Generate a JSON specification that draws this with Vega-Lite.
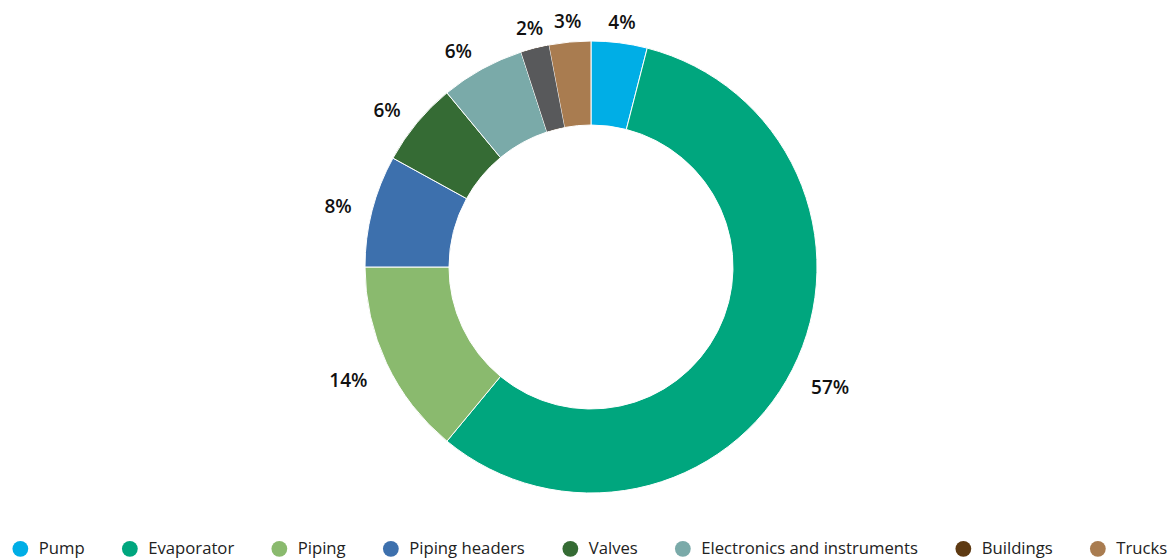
{
  "$schema": "https://vega.github.io/schema/vega-lite/v6.json",
  "width": 1170,
  "height": 558,
  "autosize": {"type": "fit", "contains": "padding"},
  "padding": {"left": 12, "right": 0, "top": 0, "bottom": 0},
  "data": {
    "values": [
      {"i": 1, "part": "Pump", "pct": 4, "label": "4%"},
      {"i": 2, "part": "Evaporator", "pct": 57, "label": "57%"},
      {"i": 3, "part": "Piping", "pct": 14, "label": "14%"},
      {"i": 4, "part": "Piping headers", "pct": 8, "label": "8%"},
      {"i": 5, "part": "Valves", "pct": 6, "label": "6%"},
      {"i": 6, "part": "Electronics and instruments", "pct": 6, "label": "6%"},
      {"i": 7, "part": "Buildings", "pct": 2, "label": "2%"},
      {"i": 8, "part": "Trucks", "pct": 3, "label": "3%"}
    ]
  },
  "encoding": {
    "theta": {"field": "pct", "type": "quantitative", "stack": true},
    "order": {"field": "i", "type": "quantitative"}
  },
  "layer": [
    {
      "mark": {"type": "arc", "outerRadius": 226, "innerRadius": 142, "stroke": "white", "strokeWidth": 1},
      "encoding": {
        "color": {
          "field": "part", "type": "nominal",
          "scale": {
            "domain": ["Pump", "Evaporator", "Piping", "Piping headers", "Valves", "Electronics and instruments", "Buildings", "Trucks"],
            "range": ["#00aee6", "#00a67e", "#8aba6e", "#3d70ad", "#356b34", "#7aaaa9", "#5e3a12", "#a97c50"]
          },
          "legend": {
            "orient": "bottom",
            "direction": "horizontal",
            "offset": 6,
            "title": null,
            "symbolType": "circle",
            "symbolSize": 250,
            "symbolStrokeWidth": 0,
            "labelFontSize": 16.7,
            "labelFont": "Open Sans",
            "labelColor": "#222222",
            "labelOffset": 10,
            "columnPadding": 36.5,
            "labelLimit": 400
          }
        }
      }
    },
    {
      "mark": {"type": "arc", "outerRadius": 225.5, "innerRadius": 142.5},
      "encoding": {
        "fill": {"condition": {"test": "datum.part === 'Buildings'", "value": "#58595b"}, "value": "transparent"}
      }
    },
    {
      "mark": {
        "type": "text", "radius": 247, "fontSize": 19, "fontWeight": 600, "font": "Open Sans", "color": "#111111",
        "baseline": "middle",
        "dy": {"expr": "cos((datum.pct_start + datum.pct_end) / 100 * PI) < 0 ? -cos((datum.pct_start + datum.pct_end) / 100 * PI) * 20 : 1"},
        "align": {"expr": "sin((datum.pct_start + datum.pct_end) / 100 * PI) > 0.3 ? 'left' : (sin((datum.pct_start + datum.pct_end) / 100 * PI) < -0.3 ? 'right' : 'center')"}
      },
      "encoding": {"text": {"field": "label", "type": "nominal"}}
    }
  ],
  "config": {"view": {"stroke": null}}
}
